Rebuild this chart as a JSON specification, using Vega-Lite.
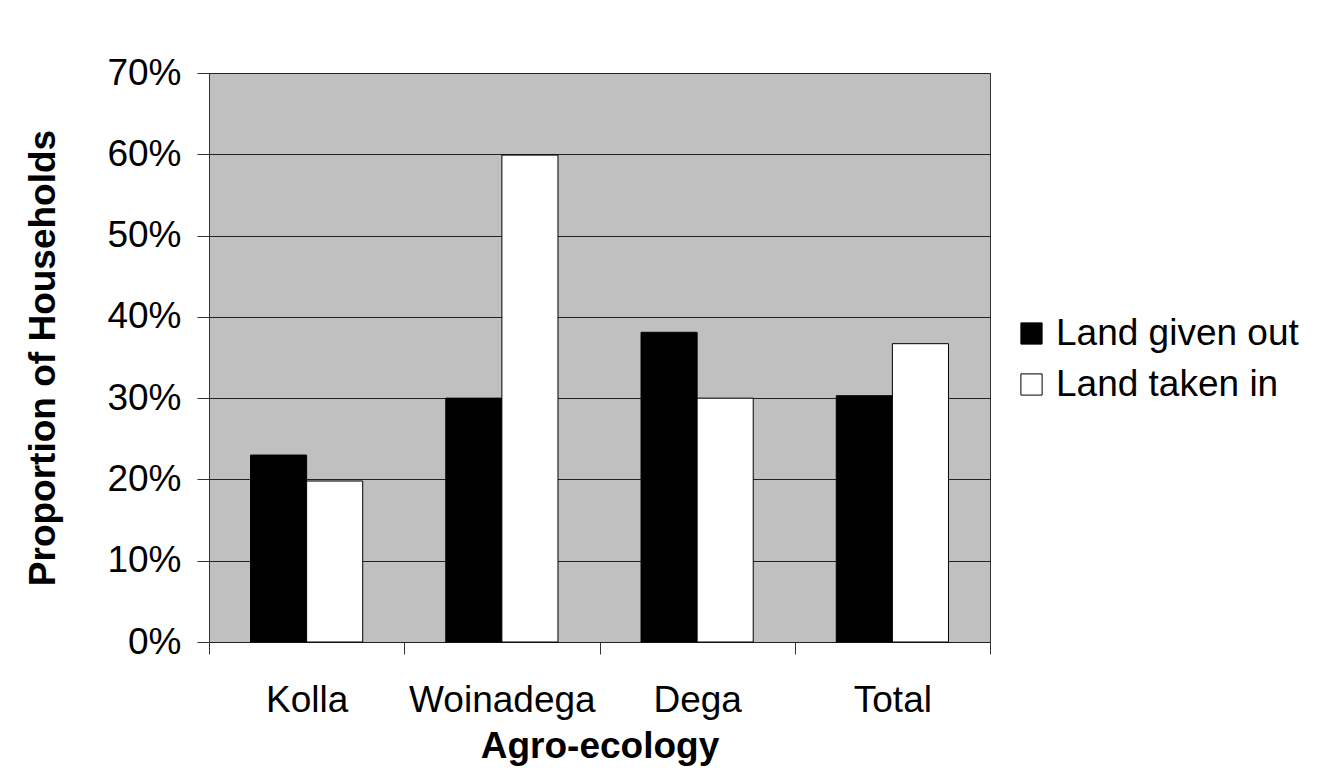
{
  "$schema": "https://vega.github.io/schema/vega-lite/v6.json",
  "autosize": "none",
  "width": 781,
  "height": 569,
  "padding": {"left": 209, "top": 73, "right": 339, "bottom": 132},
  "background": "white",
  "data": {
    "values": [
      {"zone": "Kolla", "type": "Land given out", "share": 0.23},
      {"zone": "Kolla", "type": "Land taken in", "share": 0.198},
      {"zone": "Woinadega", "type": "Land given out", "share": 0.30},
      {"zone": "Woinadega", "type": "Land taken in", "share": 0.599},
      {"zone": "Dega", "type": "Land given out", "share": 0.381},
      {"zone": "Dega", "type": "Land taken in", "share": 0.30},
      {"zone": "Total", "type": "Land given out", "share": 0.303},
      {"zone": "Total", "type": "Land taken in", "share": 0.367}
    ]
  },
  "mark": {"type": "bar", "stroke": "black", "strokeWidth": 1},
  "encoding": {
    "x": {
      "field": "zone",
      "type": "nominal",
      "sort": ["Kolla", "Woinadega", "Dega", "Total"],
      "scale": {"paddingInner": 0, "paddingOuter": 0},
      "axis": {
        "title": "Agro-ecology",
        "labelAngle": 0,
        "tickBand": "extent",
        "tickSize": 12,
        "tickColor": "#333333",
        "domain": false,
        "grid": false,
        "labelFont": "Liberation Sans",
        "labelFontSize": 37,
        "labelColor": "black",
        "labelLimit": 400,
        "labelPadding": 28,
        "titleFont": "Liberation Sans",
        "titleFontSize": 37,
        "titleFontWeight": "bold",
        "titleColor": "black",
        "titlePadding": 10
      }
    },
    "xOffset": {
      "field": "type",
      "type": "nominal",
      "sort": ["Land given out", "Land taken in"],
      "scale": {"paddingInner": 0, "paddingOuter": 0.74}
    },
    "y": {
      "field": "share",
      "type": "quantitative",
      "scale": {"domain": [0, 0.7], "nice": false},
      "axis": {
        "title": "Proportion of Households",
        "format": ".0%",
        "values": [0, 0.1, 0.2, 0.3, 0.4, 0.5, 0.6, 0.7],
        "tickSize": 12,
        "tickColor": "#333333",
        "domain": false,
        "grid": true,
        "gridColor": "#222222",
        "gridOpacity": 1,
        "gridWidth": 1,
        "labelFont": "Liberation Sans",
        "labelFontSize": 37,
        "labelColor": "black",
        "labelPadding": 16,
        "titleFont": "Liberation Sans",
        "titleFontSize": 37,
        "titleFontWeight": "bold",
        "titleColor": "black",
        "titlePadding": 44
      }
    },
    "fill": {
      "field": "type",
      "type": "nominal",
      "sort": ["Land given out", "Land taken in"],
      "scale": {"range": ["black", "white"]},
      "legend": {
        "title": null,
        "orient": "none",
        "legendX": 804,
        "legendY": 242,
        "padding": 0,
        "symbolType": "square",
        "symbolSize": 450,
        "symbolStrokeColor": "black",
        "symbolStrokeWidth": 1,
        "labelFont": "Liberation Sans",
        "labelFontSize": 37,
        "labelColor": "black",
        "labelOffset": 6,
        "rowPadding": 13,
        "labelLimit": 400
      }
    }
  },
  "config": {
    "view": {"fill": "#C0C0C0", "stroke": "#333333", "strokeWidth": 1}
  }
}
